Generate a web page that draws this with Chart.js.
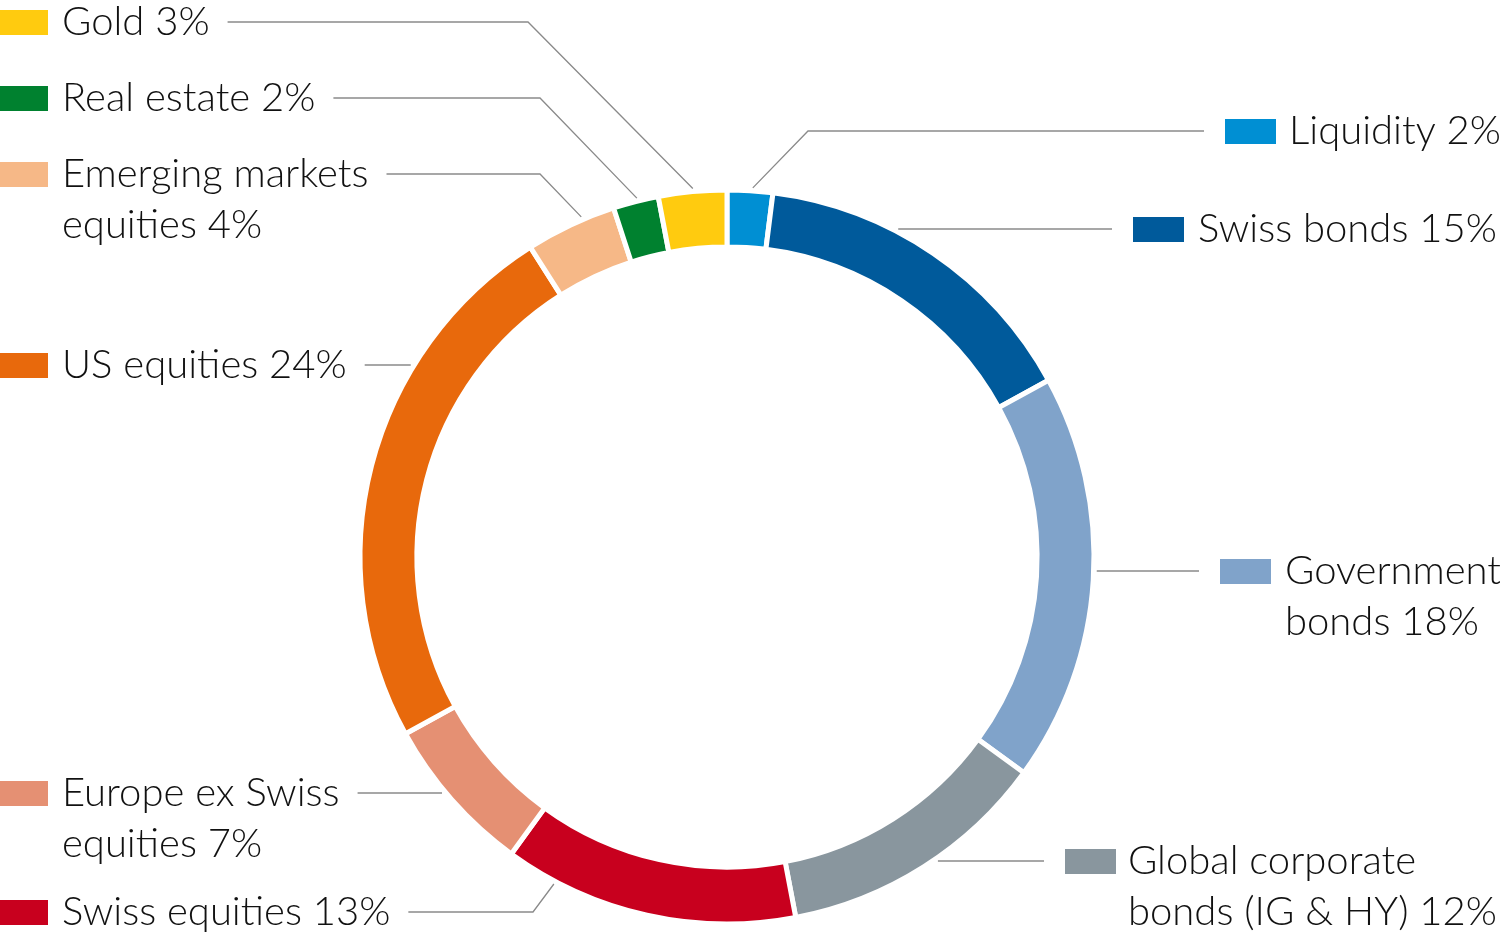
<!DOCTYPE html>
<html>
<head>
<meta charset="utf-8">
<script src="https://cdn.jsdelivr.net/npm/chart.js@4.4.1/dist/chart.umd.min.js"></script>
<style>
  html, body { margin: 0; padding: 0; background: #ffffff; }
  #wrap { width: 1500px; height: 938px; position: relative; }
</style>
</head>
<body>
<div id="wrap"><canvas id="c" width="1500" height="938"></canvas></div>
<script>
// ---------- DATA ----------
const categories = ['Liquidity', 'Swiss bonds', 'Government bonds', 'Global corporate bonds (IG & HY)',
  'Swiss equities', 'Europe ex Swiss equities', 'US equities', 'Emerging markets equities', 'Real estate', 'Gold'];
const values = [2, 15, 18, 12, 13, 7, 24, 4, 2, 3];
const colors = ['#008fd3', '#005a9b', '#80a3ca', '#89969e', '#c8001e', '#e59073', '#e8690c', '#f6b887', '#00812f', '#ffcb0f'];
// category names split into display lines (value appended to last line)
const labelWraps = [['Liquidity'], ['Swiss bonds'], ['Government', 'bonds'], ['Global corporate', 'bonds (IG & HY)'],
  ['Swiss equities'], ['Europe ex Swiss', 'equities'], ['US equities'], ['Emerging markets', 'equities'], ['Real estate'], ['Gold']];

// ---------- LAYOUT (positions only) ----------
const labelLayout = [
  { side: 'R', sx: 1225, tx: 1289, base: 144, ang: 4,     elbow: 808 },
  { side: 'R', sx: 1133, tx: 1198, base: 242, ang: null,  elbow: null },
  { side: 'R', sx: 1220, tx: 1285, base: 584, ang: null,  elbow: null },
  { side: 'R', sx: 1065, tx: 1128, base: 874, ang: null,  elbow: null },
  { side: 'L', sx: -3,   tx: 62,   base: 925, ang: 207.9, elbow: 533 },
  { side: 'L', sx: -3,   tx: 62,   base: 806, ang: null,  elbow: null },
  { side: 'L', sx: -3,   tx: 62,   base: 378, ang: null,  elbow: null },
  { side: 'L', sx: -3,   tx: 62,   base: 187, ang: 336.8, elbow: 540 },
  { side: 'L', sx: -3,   tx: 62,   base: 111, ang: 345.9, elbow: 540 },
  { side: 'L', sx: -3,   tx: 62,   base: 35,  ang: 354.7, elbow: 528 }
];
const FONT = '300 40px Lato, "Open Sans", sans-serif';
const LINE_H = 51;

const labelPlugin = {
  id: 'calloutLabels',
  afterDraw(chart) {
    const ctx = chart.ctx;
    const meta = chart.getDatasetMeta(0);
    const arc0 = meta.data[0];
    const cx = arc0.x, cy = arc0.y;
    const r = arc0.outerRadius + 3;
    ctx.save();
    ctx.font = FONT;
    ctx.textBaseline = 'alphabetic';
    ctx.textAlign = 'left';
    labelLayout.forEach((L, i) => {
      const lines = labelWraps[i].slice();
      lines[lines.length - 1] = lines[lines.length - 1] + ' ' + values[i] + '%';
      ctx.fillStyle = colors[i];
      ctx.fillRect(L.sx, L.base - 25, 51, 25);
      ctx.fillStyle = '#111111';
      lines.forEach((t, k) => ctx.fillText(t, L.tx, L.base + k * LINE_H));
      const y = L.base - 13;
      let end;
      if (L.ang !== null) {
        const a = L.ang * Math.PI / 180;
        end = [cx + r * Math.sin(a), cy - r * Math.cos(a)];
      } else {
        const dx = Math.sqrt(Math.max(r * r - (y - cy) * (y - cy), 0));
        end = [L.side === 'R' ? cx + dx : cx - dx, y];
      }
      let start;
      if (L.side === 'L') {
        const w = ctx.measureText(lines[0]).width;
        start = [L.tx + w + 18, y];
      } else {
        start = [L.sx - 21, y];
      }
      ctx.strokeStyle = '#8a8a8a';
      ctx.lineWidth = 1.3;
      ctx.beginPath();
      ctx.moveTo(start[0], start[1]);
      if (L.elbow !== null) ctx.lineTo(L.elbow, y);
      ctx.lineTo(end[0], end[1]);
      ctx.stroke();
    });
    ctx.restore();
  }
};

new Chart(document.getElementById('c'), {
  type: 'doughnut',
  data: {
    labels: categories,
    datasets: [{
      data: values,
      backgroundColor: colors,
      borderColor: '#ffffff',
      borderWidth: 5,
      borderJoinStyle: 'miter'
    }]
  },
  options: {
    responsive: false,
    animation: false,
    events: [],
    radius: 367,
    cutout: '84.5%',
    layout: { padding: { left: 300, right: 346, top: 190, bottom: 14 } },
    plugins: { legend: { display: false }, tooltip: { enabled: false } }
  },
  plugins: [labelPlugin]
});
</script>
</body>
</html>
